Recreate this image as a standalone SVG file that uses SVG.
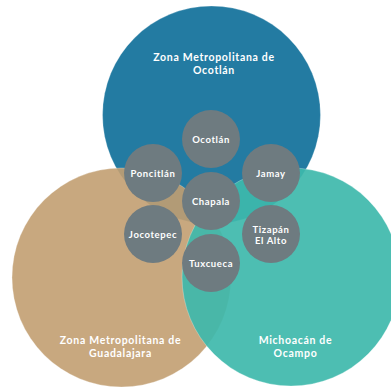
<svg xmlns="http://www.w3.org/2000/svg" width="391" height="387" viewBox="0 0 391 387">
<style>
.big{stroke:#ffffff;stroke-opacity:0.45;stroke-width:0.6}
.small{fill:#6E7B80}
.t{font-family:"Lato","Liberation Sans",sans-serif;fill:#ffffff;text-anchor:middle}
.title{font-size:10.5px;font-weight:700;letter-spacing:0.7px}
.lbl{font-size:9.5px;font-weight:700;letter-spacing:0.6px}
</style>
<rect width="391" height="387" fill="#ffffff"/>
<g id="zm-ocotlan">
<circle class="big" cx="211.5" cy="115" r="109" fill="#237BA2"/>
<text class="t title" x="214" y="61">Zona Metropolitana de</text>
<text class="t title" x="214" y="73.5">Ocotlán</text>
</g>
<g id="zm-guadalajara">
<circle class="big" cx="121.5" cy="277.5" r="109.5" fill="#C29F71" fill-opacity="0.9"/>
<text class="t title" x="120.5" y="344">Zona Metropolitana de</text>
<text class="t title" x="120.5" y="356.5">Guadalajara</text>
</g>
<g id="michoacan">
<circle class="big" cx="291" cy="277" r="109" fill="#3EB8AB" fill-opacity="0.92"/>
<text class="t title" x="295.5" y="344">Michoacán de</text>
<text class="t title" x="295.5" y="356.5">Ocampo</text>
</g>
<g id="ocotlan">
<circle class="small" cx="211" cy="139" r="29"/>
<text class="t lbl" x="211" y="142.5">Ocotlán</text>
</g>
<g id="poncitlan">
<circle class="small" cx="153" cy="173" r="29"/>
<text class="t lbl" x="153" y="176.5">Poncitlán</text>
</g>
<g id="jamay">
<circle class="small" cx="271" cy="173" r="29"/>
<text class="t lbl" x="271" y="176.5">Jamay</text>
</g>
<g id="chapala">
<circle class="small" cx="211" cy="201" r="29"/>
<text class="t lbl" x="211" y="204.5">Chapala</text>
</g>
<g id="jocotepec">
<circle class="small" cx="153" cy="234" r="29"/>
<text class="t lbl" x="153" y="237.5">Jocotepec</text>
</g>
<g id="tizapan">
<circle class="small" cx="271" cy="234" r="29"/>
<text class="t lbl" x="271" y="232.5">Tizapán</text>
<text class="t lbl" x="271" y="244">El Alto</text>
</g>
<g id="tuxcueca">
<circle class="small" cx="211" cy="263" r="29"/>
<text class="t lbl" x="211" y="266.5">Tuxcueca</text>
</g>
</svg>
